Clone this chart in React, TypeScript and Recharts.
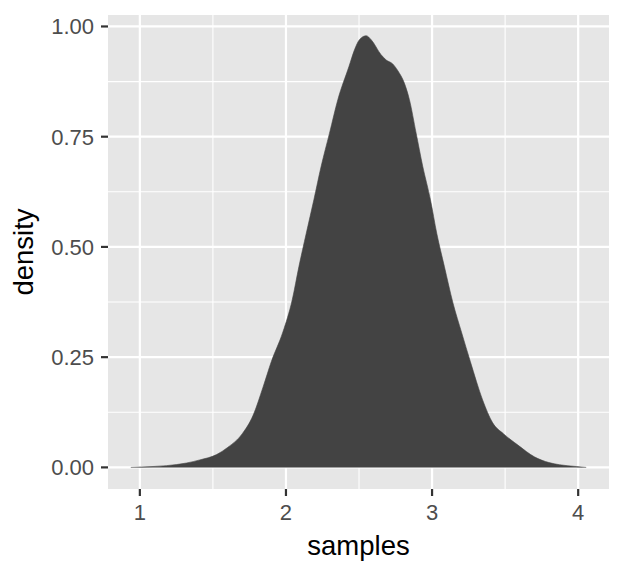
import React from "react";
import {
  AreaChart,
  Area,
  XAxis,
  YAxis,
  CartesianGrid,
  Label,
} from "recharts";

// kernel density estimate
const samples = [
  0.938, 1.09, 1.182, 1.32, 1.41, 1.525, 1.6, 1.7, 1.775, 1.843, 1.9, 1.979,
  2.043, 2.089, 2.139, 2.191, 2.241, 2.298, 2.355, 2.431, 2.469, 2.503, 2.549,
  2.583, 2.651, 2.686, 2.731, 2.765, 2.811, 2.845, 2.891, 2.936, 2.989, 3.032,
  3.084, 3.143, 3.203, 3.262, 3.346, 3.415, 3.49, 3.59, 3.7, 3.8, 3.873, 3.987,
  4.055,
];
const density = [
  0.0, 0.002, 0.004, 0.01, 0.017, 0.029, 0.045, 0.076, 0.118, 0.182, 0.24,
  0.307, 0.38, 0.456, 0.531, 0.607, 0.683, 0.758, 0.834, 0.909, 0.947, 0.97,
  0.979, 0.97, 0.936, 0.924, 0.915, 0.9, 0.871, 0.834, 0.758, 0.683, 0.607,
  0.531, 0.456, 0.373, 0.305, 0.24, 0.153, 0.101, 0.076, 0.05, 0.024, 0.011,
  0.006, 0.002, 0.0,
];

const xTicks = [1, 2, 3, 4];
const xMinor = [1.5, 2.5, 3.5];
const yTicks = [0, 0.25, 0.5, 0.75, 1];
const yMinor = [0.125, 0.375, 0.625, 0.875];

const data = samples.map((x, i) => ({ x, y: density[i] }));

const font = "'Liberation Sans', Arial, Helvetica, sans-serif";
const tickStyle = { fontFamily: font, fontSize: 22, fill: "#4D4D4D" };

export default function App() {
  return (
    <div style={{ position: "absolute", left: 0, top: 0, background: "#fff" }}>
      <AreaChart
        width={624}
        height={576}
        data={data}
        margin={{ top: 15, right: 15, bottom: 0, left: 0 }}
      >
        <CartesianGrid
          fill="#E6E6E6"
          stroke="#FFFFFF"
          strokeWidth={1.1}
          horizontalValues={yMinor}
          verticalValues={xMinor}
        />
        <CartesianGrid
          stroke="#FFFFFF"
          strokeWidth={2.2}
          horizontalValues={yTicks}
          verticalValues={xTicks}
        />
        <XAxis
          type="number"
          dataKey="x"
          domain={[0.782, 4.211]}
          ticks={xTicks}
          allowDataOverflow
          height={87}
          axisLine={false}
          tickSize={7}
          tickMargin={8}
          tickLine={{ stroke: "#333333", strokeWidth: 2.2 }}
          tick={tickStyle}
        >
          <Label
            content={({ viewBox }: any) => (
              <text
                x={viewBox.x + viewBox.width / 2}
                y={555}
                textAnchor="middle"
                fontFamily={font}
                fontSize={27.5}
                fill="#000"
              >
                samples
              </text>
            )}
          />
        </XAxis>
        <YAxis
          type="number"
          domain={[-0.049, 1.026]}
          ticks={yTicks}
          allowDataOverflow
          width={108}
          axisLine={false}
          tickSize={7}
          tickMargin={7}
          tickLine={{ stroke: "#333333", strokeWidth: 2.2 }}
          tick={tickStyle}
          tickFormatter={(v: number) => v.toFixed(2)}
        >
          <Label
            content={({ viewBox }: any) => {
              const cy = viewBox.y + viewBox.height / 2;
              return (
                <text
                  x={33}
                  y={cy}
                  transform={`rotate(-90, 33, ${cy})`}
                  textAnchor="middle"
                  fontFamily={font}
                  fontSize={27.5}
                  fill="#000"
                >
                  density
                </text>
              );
            }}
          />
        </YAxis>
        <Area
          type="monotone"
          dataKey="y"
          baseValue={0}
          stroke="#434343"
          strokeWidth={0.6}
          fill="#434343"
          fillOpacity={1}
          isAnimationActive={false}
        />
      </AreaChart>
    </div>
  );
}
